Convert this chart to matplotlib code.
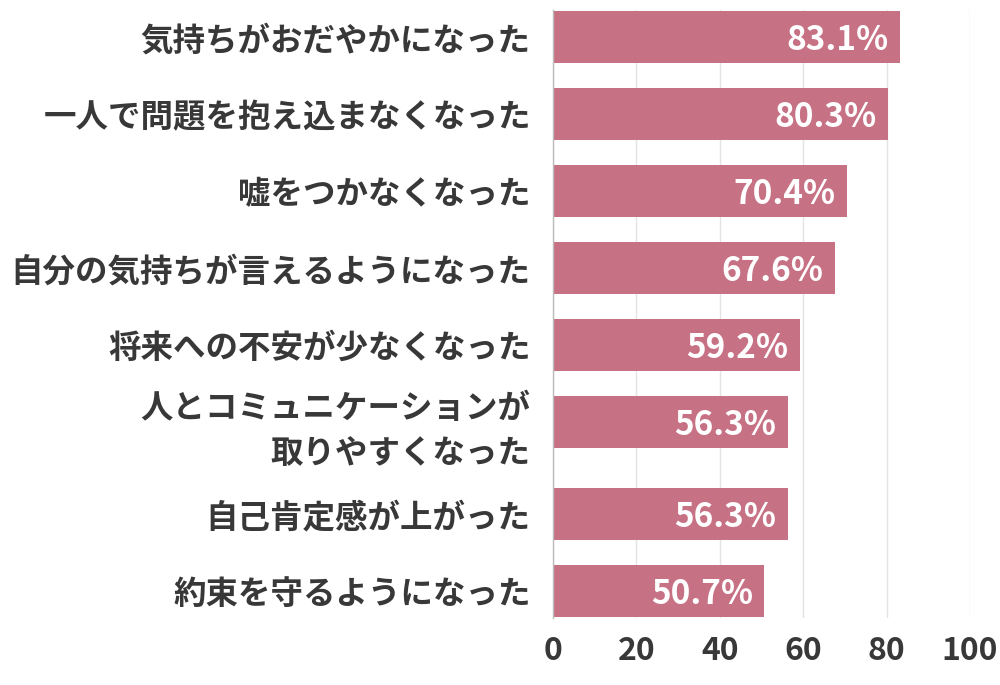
import matplotlib
matplotlib.use("Agg")
import matplotlib.pyplot as plt
import numpy as np

plt.rcParams['font.family'] = ['Noto Sans CJK JP', 'DejaVu Sans']

categories = [
    "気持ちがおだやかになった",
    "一人で問題を抱え込まなくなった",
    "嘘をつかなくなった",
    "自分の気持ちが言えるようになった",
    "将来への不安が少なくなった",
    "人とコミュニケーションが\n取りやすくなった",
    "自己肯定感が上がった",
    "約束を守るようになった",
]
values = [83.1, 80.3, 70.4, 67.6, 59.2, 56.3, 56.3, 50.7]
x_ticks = [0, 20, 40, 60, 80, 100]

BAR_COLOR = "#c77185"
TEXT_COLOR = "#383838"

# row positions: add a little extra room after two-line labels
pos = []
y = 0.0
for i, c in enumerate(categories):
    pos.append(y)
    y += 1.2 if "\n" in c else 1.0
pos = np.array(pos)

fig = plt.figure(figsize=(10, 6.85), dpi=100)
ax = fig.add_axes([0.553, 1 - 618 / 685, 0.417, 608 / 685])

ax.barh(pos, values, height=0.675, color=BAR_COLOR, zorder=3)

for p, v in zip(pos, values):
    ax.annotate(f"{v:.1f}%", (v, p), xytext=(-8, 0), textcoords="offset points",
                ha="right", va="center_baseline", color="white",
                fontsize=24, fontweight="bold", zorder=4)

ax.set_xlim(0, 100)
ax.set_ylim(pos[-1] + 0.35, -0.357)
ax.set_xticks(x_ticks)
ax.set_xticklabels([str(t) for t in x_ticks])
ax.set_yticks(pos)
ax.set_yticklabels(categories, linespacing=1.45)

ax.tick_params(axis="y", length=0, pad=16, labelsize=23.4, labelcolor=TEXT_COLOR)
ax.tick_params(axis="x", length=0, pad=12, labelsize=23, labelcolor=TEXT_COLOR)
for lab in ax.get_yticklabels() + ax.get_xticklabels():
    lab.set_fontweight("bold")

ax.grid(axis="x", color="#e3e3e3", linewidth=1, zorder=0)
ax.grid(axis="y", visible=False)
for s in ["top", "right", "bottom"]:
    ax.spines[s].set_visible(False)
ax.spines["left"].set_color("#bbbbbb")
ax.spines["left"].set_linewidth(1)
ax.spines["left"].set_zorder(5)

plt.savefig("out.png", dpi=100, facecolor="white")
